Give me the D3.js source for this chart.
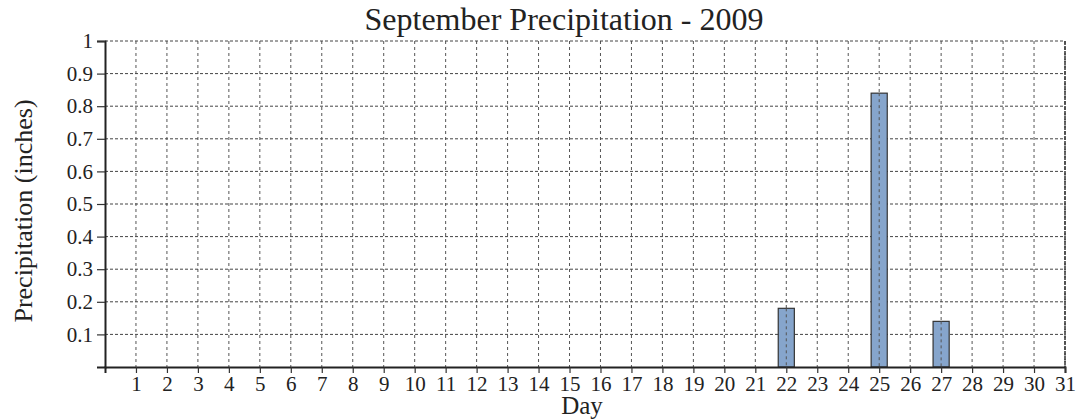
<!DOCTYPE html>
<html>
<head>
<meta charset="utf-8">
<script src="https://cdn.jsdelivr.net/npm/d3@7"></script>
<style>
  body { margin: 0; background: #fff; }
  svg text { font-family: "Liberation Serif", "Times New Roman", Times, serif; fill: #222; }
</style>
</head>
<body>
<div id="chart"></div>
<script>
const days = d3.range(1, 32);
const rainDays = [22, 25, 27];
const rainValues = [0.18, 0.84, 0.14];
const yTicks = [0.1, 0.2, 0.3, 0.4, 0.5, 0.6, 0.7, 0.8, 0.9, 1];

const width = 1076,
    height = 420,
    margin = ({ top: 41, right: 11, bottom: 53, left: 105 });

const serif = "'Liberation Serif', 'Times New Roman', Times, serif";

const data = rainDays.map((d, i) => ({ day: d, value: rainValues[i] }));

const svg = d3.select("#chart")
    .append("svg")
    .attr("width", width)
    .attr("height", height);

const x = d3.scaleLinear()
    .domain([0, 31])
    .range([margin.left, width - margin.right]);

const y = d3.scaleLinear()
    .domain([0, 1])
    .range([height - margin.bottom, margin.top]);

const barW = (x(1) - x(0)) * 0.52;

// grid
svg.append("g")
    .selectAll("line")
    .data(days)
    .join("line")
    .attr("x1", d => x(d)).attr("x2", d => x(d))
    .attr("y1", y(1)).attr("y2", y(0))
    .attr("stroke", "#555")
    .attr("stroke-dasharray", "3,3");

svg.append("g")
    .selectAll("line")
    .data(yTicks)
    .join("line")
    .attr("x1", x(0)).attr("x2", x(31))
    .attr("y1", d => y(d)).attr("y2", d => y(d))
    .attr("stroke", "#444")
    .attr("stroke-dasharray", "3,2");

// bars
svg.append("g")
    .selectAll("rect")
    .data(data)
    .join("rect")
    .attr("x", d => x(d.day) - barW / 2)
    .attr("width", barW)
    .attr("y", d => y(d.value))
    .attr("height", d => y(0) - y(d.value))
    .attr("fill", "#86a5cc")
    .attr("stroke", "#333")
    .attr("stroke-width", 1.2);

// dashed grid shows through the bars
svg.append("g")
    .selectAll("line")
    .data(data)
    .join("line")
    .attr("x1", d => x(d.day)).attr("x2", d => x(d.day))
    .attr("y1", d => y(d.value)).attr("y2", y(0))
    .attr("stroke", "#555")
    .attr("stroke-dasharray", "3,3");

// axes
const xAxis = g => g
    .attr("transform", `translate(0,${y(0)})`)
    .attr("font-family", serif)
    .call(d3.axisBottom(x).tickValues(days).tickSize(6).tickPadding(3))
    .call(g => g.select(".domain").attr("stroke-width", 2));

const yAxis = g => g
    .attr("transform", `translate(${x(0)},0)`)
    .attr("font-family", serif)
    .call(d3.axisLeft(y).tickValues(yTicks).tickSize(8).tickPadding(4).tickFormat(d => d === 1 ? "1" : d3.format(".1f")(d)))
    .call(g => g.select(".domain").attr("stroke-width", 2));

svg.append("g").call(xAxis)
    .selectAll("text").attr("font-size", 21);
svg.append("g").call(yAxis)
    .selectAll("text").attr("font-size", 21);

svg.selectAll(".tick line").attr("stroke", "#333").attr("stroke-width", 1.2);
svg.selectAll(".domain").attr("stroke", "#222");

// right border
svg.append("line")
    .attr("x1", x(31)).attr("x2", x(31))
    .attr("y1", y(1)).attr("y2", y(0))
    .attr("stroke", "#333")
    .attr("stroke-width", 1.5)
    .attr("stroke-dasharray", "4,1");

// titles
svg.append("text")
    .attr("x", 564)
    .attr("y", 30)
    .attr("text-anchor", "middle")
    .attr("font-size", 32)
    .text("September Precipitation - 2009");

svg.append("text")
    .attr("x", 582)
    .attr("y", 414)
    .attr("text-anchor", "middle")
    .attr("font-size", 25)
    .text("Day");

svg.append("text")
    .attr("transform", `translate(32,211) rotate(-90)`)
    .attr("text-anchor", "middle")
    .attr("font-size", 26)
    .text("Precipitation (inches)");
</script>
</body>
</html>
